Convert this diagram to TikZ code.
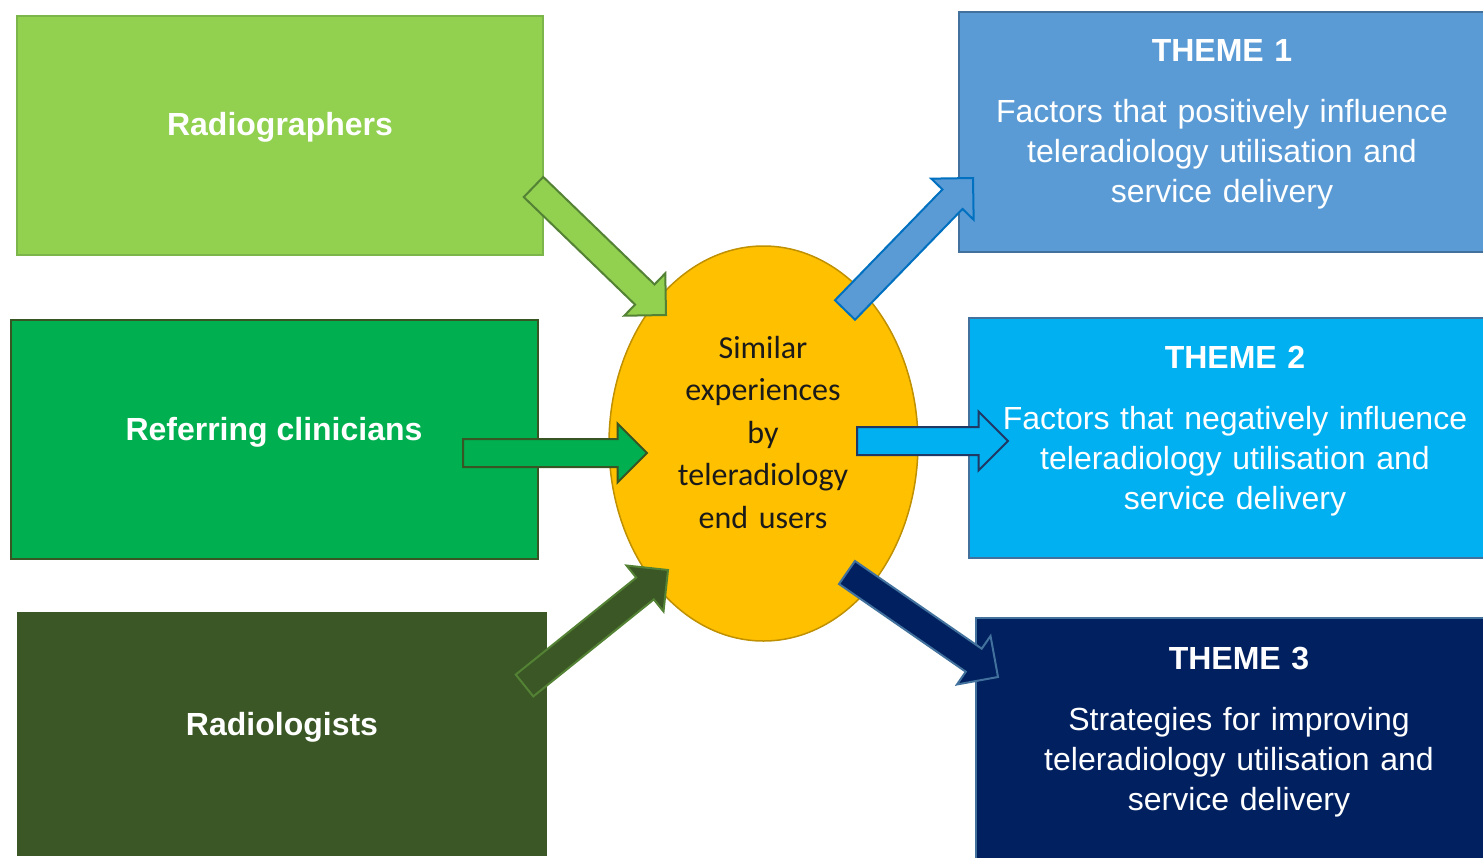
\documentclass[tikz,border=0pt]{standalone}
\usepackage{fontspec}
\setmainfont{Liberation Sans}
\newfontfamily\carlito{Carlito}
\usetikzlibrary{calc,shapes.geometric}

\definecolor{radgFill}{HTML}{92D050}
\definecolor{radgLine}{HTML}{7CB54A}
\definecolor{radgArrowLine}{HTML}{548235}
\definecolor{refFill}{HTML}{00B050}
\definecolor{refLine}{HTML}{375623}
\definecolor{radlFill}{HTML}{3A5725}
\definecolor{radlArrowLine}{HTML}{548235}
\definecolor{themeOneFill}{HTML}{5B9BD5}
\definecolor{themeOneArrowLine}{HTML}{0070C0}
\definecolor{themeTwoFill}{HTML}{00B0F0}
\definecolor{themeTwoArrowLine}{HTML}{203864}
\definecolor{themeThreeFill}{HTML}{002060}
\definecolor{themeLine}{HTML}{41719C}
\definecolor{hubFill}{HTML}{FFC000}
\definecolor{hubLine}{HTML}{BF9000}
\definecolor{hubText}{HTML}{1A1A1A}

\newcommand{\arrowShaft}{7pt}
\newcommand{\arrowHead}{14.75pt}
\newcommand{\blockArrow}[3][]{%
  \path ($(#3)!\arrowHead!(#2)$) coordinate (neck);
  \draw[#1] ($(#2)!\arrowShaft!90:(#3)$) -- ($(neck)!\arrowShaft!90:(#3)$)
    -- ($(neck)!\arrowHead!90:(#3)$) -- (#3)
    -- ($(neck)!\arrowHead!-90:(#3)$) -- ($(neck)!\arrowShaft!-90:(#3)$)
    -- ($(#2)!\arrowShaft!-90:(#3)$) -- cycle;}

\tikzset{
  box/.style={rectangle, inner sep=0pt, line width=0.75pt},
  boxtext/.style={text=white, anchor=base, font=\fontsize{16pt}{19.5pt}\selectfont\bfseries},
  themetext/.style={text=white, anchor=base, text width=260pt, align=center,
    font=\fontsize{16pt}{20pt}\selectfont},
  hubtext/.style={text=hubText, anchor=base, text width=110pt, align=center,
    font=\carlito\fontsize{16pt}{21.2pt}\selectfont},
  blockarrow/.style={line width=1pt, line join=miter},
}

\begin{document}
\begin{tikzpicture}[x=0.5pt, y=-0.5pt]
	\useasboundingbox (0,0) rectangle (1483,857);
	\clip (0,0) rectangle (1483,857);

	\node[box, fill=radgFill, draw=radgLine, minimum width=263pt, minimum height=119.5pt] (radiographers) at (280,135.5) {};
	\node[box, fill=refFill, draw=refLine, line width=1pt, minimum width=263.5pt, minimum height=119.5pt] (referring) at (274.5,439.5) {};
	\node[box, fill=radlFill, draw=radlFill, minimum width=264pt, minimum height=121pt] (radiologists) at (282,734) {};

	\node[box, fill=themeOneFill, draw=themeLine, minimum width=268pt, minimum height=120pt] (themeOne) at (1227,132) {};
	\node[box, fill=themeTwoFill, draw=themeLine, minimum width=263pt, minimum height=120pt] (themeTwo) at (1232,438) {};
	\node[box, fill=themeThreeFill, draw=themeLine, minimum width=259.5pt, minimum height=123.5pt] (themeThree) at (1235.5,741.5) {};

	\node[ellipse, inner sep=0pt, fill=hubFill, draw=hubLine, line width=0.75pt, minimum width=154.5pt, minimum height=197.5pt] (hub) at (763.5,443.5) {};

	\node[boxtext] (radiographersText) at (280,135) {Radiographers};
	\node[boxtext] (referringText) at (274,440) {Referring clinicians};
	\node[boxtext] (radiologistsText) at (282,735) {Radiologists};

	\node[themetext] (themeOneText) at (1222,61.5) {\textbf{THEME 1}\\[10.5pt]Factors that positively influence\\teleradiology utilisation and\\service delivery};
	\node[themetext] (themeTwoText) at (1235,368) {\textbf{THEME 2}\\[10.5pt]Factors that negatively influence\\teleradiology utilisation and\\service delivery};
	\node[themetext] (themeThreeText) at (1239,669.5) {\textbf{THEME 3}\\[10.5pt]Strategies for improving\\teleradiology utilisation and\\service delivery};

	\node[hubtext] (hubText) at (763,358.5) {Similar\\experiences\\by\\teleradiology\\end users};

	\coordinate (radiographersTail) at (533.5,187);
	\coordinate (radiographersTip) at (666,315);
	\coordinate (referringTail) at (463,453);
	\coordinate (referringTip) at (647,453);
	\coordinate (radiologistsTail) at (524.5,685.5);
	\coordinate (radiologistsTip) at (668,570);
	\coordinate (themeOneTail) at (845,310);
	\coordinate (themeOneTip) at (973,178);
	\coordinate (themeTwoTail) at (857,441);
	\coordinate (themeTwoTip) at (1008,441);
	\coordinate (themeThreeTail) at (847,572.5);
	\coordinate (themeThreeTip) at (998,677);

	\blockArrow[blockarrow, fill=radgFill, draw=radgArrowLine]{radiographersTail}{radiographersTip}
	\blockArrow[blockarrow, fill=refFill, draw=refLine]{referringTail}{referringTip}
	\blockArrow[blockarrow, fill=radlFill, draw=radlArrowLine]{radiologistsTail}{radiologistsTip}
	\blockArrow[blockarrow, fill=themeOneFill, draw=themeOneArrowLine]{themeOneTail}{themeOneTip}
	\blockArrow[blockarrow, fill=themeTwoFill, draw=themeTwoArrowLine]{themeTwoTail}{themeTwoTip}
	\blockArrow[blockarrow, fill=themeThreeFill, draw=themeLine]{themeThreeTail}{themeThreeTip}
\end{tikzpicture}
\end{document}
